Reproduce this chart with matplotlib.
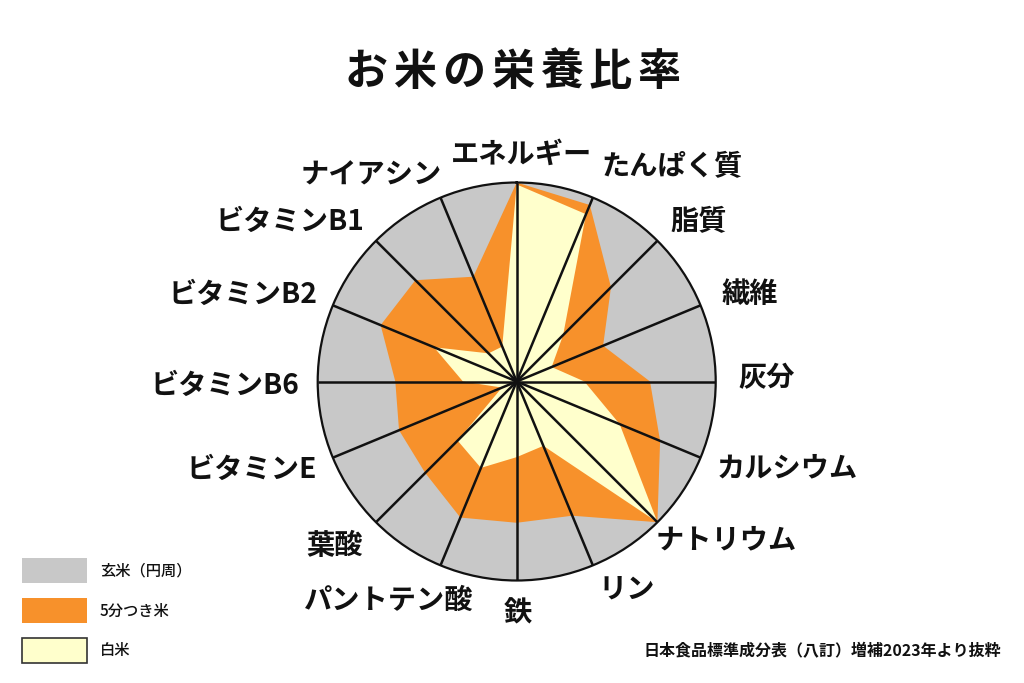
import numpy as np
import matplotlib
matplotlib.use("Agg")
import matplotlib.pyplot as plt
from matplotlib.patches import Rectangle

plt.rcParams['font.family'] = ['Noto Sans CJK JP', 'DejaVu Sans']

# ---- data (ratio to brown rice = 1.0) ----
categories = ['エネルギー', 'たんぱく質', '脂質', '繊維', '灰分', 'カルシウム', 'ナトリウム',
              'リン', '鉄', 'パントテン酸', '葉酸', 'ビタミンE', 'ビタミンB6', 'ビタミンB2',
              'ビタミンB1', 'ナイアシン']
genmai = [1.0] * 16
gobu = [1.0, 0.96, 0.67, 0.47, 0.67, 0.78, 1.0, 0.73, 0.71, 0.74, 0.65, 0.64, 0.61, 0.74, 0.72, 0.57]
hakumai = [0.99, 0.91, 0.33, 0.19, 0.34, 0.56, 1.0, 0.35, 0.38, 0.47, 0.42, 0.08, 0.27, 0.45, 0.20, 0.19]
series_names = ['玄米（円周）', '5分つき米', '白米']
title = 'お米の栄養比率'
source = '日本食品標準成分表（八訂）増補2023年より抜粋'

# ---- layout ----
W, H = 1024, 683
cx, cy, R = 516.7, 381.5, 199.0
label_px = [(522, 155), (672, 167), (699, 222), (750, 294), (767, 378), (787, 468),
            (726, 540), (627, 590), (518, 613), (389, 601), (335, 546), (252, 470),
            (225, 386), (243, 295), (290, 222), (371, 175)]
c_gray, c_orange, c_white = '#c8c8c8', '#f7912b', '#ffffcc'

fig = plt.figure(figsize=(W / 100, H / 100), dpi=100)
fig.patch.set_facecolor('white')

def fx(x):
    return x / W

def fy(y):
    return 1 - y / H

ax = fig.add_axes([fx(cx - R), fy(cy + R), 2 * R / W, 2 * R / H], projection='polar')
ax.set_theta_zero_location('N')
ax.set_theta_direction(-1)
ax.set_ylim(0, 1)
ax.set_xticks([])
ax.set_yticks([])
ax.grid(False)
ax.set_facecolor('white')
ax.spines['polar'].set_linewidth(1.6)
ax.spines['polar'].set_color('#111111')
ax.spines['polar'].set_zorder(10)

n = len(categories)
theta = np.arange(n) * 2 * np.pi / n
tc = np.append(theta, theta[0])

tfine = np.linspace(0, 2 * np.pi, 400)
ax.fill(tfine, np.interp(tfine, tc, np.append(genmai, genmai[0])), color=c_gray, lw=0, zorder=1)
ax.fill(tc, np.append(gobu, gobu[0]), color=c_orange, lw=0, zorder=2)
ax.fill(tc, np.append(hakumai, hakumai[0]), color=c_white, lw=0, zorder=3)
for t in theta:
    ax.plot([t, t], [0, 1], color='#111111', lw=1.8, zorder=5, solid_capstyle='butt')

# category labels
for lab, (x, y) in zip(categories, label_px):
    fig.text(fx(x), fy(y), lab, fontsize=20.3, fontweight='bold', ha='center', va='center',
             color='#111111')

# title with letter spacing
tx0, tx1, ty = 342, 683, 72
pitch = (tx1 - tx0) / len(title)
for i, ch in enumerate(title):
    fig.text(fx(tx0 + pitch * (i + 0.5)), fy(ty), ch, fontsize=31, fontweight='bold',
             ha='center', va='center', color='#111111')

# legend
leg_colors = [c_gray, c_orange, c_white]
leg_edges = ['none', 'none', '#333333']
leg_y = [570, 610, 650]
for name, col, ec, y in zip(series_names, leg_colors, leg_edges, leg_y):
    fig.patches.append(Rectangle((fx(22), fy(y + 12.5)), 65 / W, 25 / H, transform=fig.transFigure,
                                 facecolor=col, edgecolor=ec, lw=1.2 if ec != 'none' else 0))
    fig.text(fx(100), fy(y + 1), name, fontsize=11, ha='left', va='center', color='#111111',
             fontweight='medium')

fig.text(fx(1001), fy(651), source, fontsize=11.5, fontweight='bold', ha='right', va='center',
         color='#111111')

fig.savefig('out.png', dpi=100, facecolor='white')
